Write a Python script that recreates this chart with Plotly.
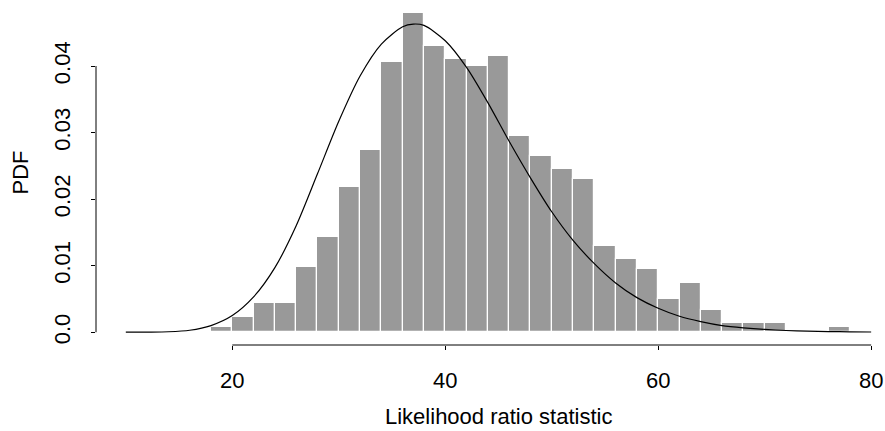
import plotly.graph_objects as go

# Histogram of the simulated statistic: bin edges (width 2) and density per bin
bin_left = [18, 20, 22, 24, 26, 28, 30, 32, 34, 36, 38, 40, 42, 44, 46,
            48, 50, 52, 54, 56, 58, 60, 62, 64, 66, 68, 70, 72, 74, 76]
bin_width = 2
density = [0.00084, 0.00234, 0.00435, 0.00435, 0.00985, 0.01435, 0.02186,
           0.02742, 0.04054, 0.0480, 0.0430, 0.0410, 0.0400, 0.0415, 0.0295,
           0.0265, 0.0245, 0.0230, 0.0130, 0.0110, 0.0095, 0.0050, 0.0074,
           0.0034, 0.00135, 0.00135, 0.00135, 0.0, 0.0, 0.00084]

# Reference density curve
curve_x = [10, 12, 14, 16, 18, 20, 22, 24, 26, 28, 30, 32, 34, 36, 37, 38,
           40, 42, 44, 46, 48, 50, 52, 54, 56, 58, 60, 62, 64, 66, 68, 70,
           72, 74, 76, 78, 80]
curve_y = [0.0000, 0.00002, 0.00007, 0.0003, 0.0010, 0.0025, 0.0053, 0.0097,
           0.0160, 0.0238, 0.0317, 0.0385, 0.0433, 0.0459, 0.0463, 0.0461,
           0.0438, 0.0398, 0.0345, 0.0287, 0.0232, 0.0181, 0.0138, 0.0103,
           0.0074, 0.0052, 0.0036, 0.0024, 0.0016, 0.0010, 0.00066, 0.00042,
           0.00026, 0.00016, 0.0001, 0.00006, 0.00003]

x_ticks = [20, 40, 60, 80]
y_ticks = [0.0, 0.01, 0.02, 0.03, 0.04]
y_tick_text = ["0.0", "0.01", "0.02", "0.03", "0.04"]

x_label = "Likelihood ratio statistic"
y_label = "PDF"

FONT = "Liberation Sans, Arial, Helvetica, sans-serif"
FS = 22

# R-style axis limits: data range padded by 4% on each side
x_lo, x_hi = min(curve_x), max(curve_x)
x_pad = 0.04 * (x_hi - x_lo)
y_hi = max(density)
y_pad = 0.04 * y_hi
x_range = [x_lo - x_pad, 81.3]
y_range = [-y_pad, y_hi + y_pad]

centers = [b + bin_width / 2 for b in bin_left]

fig = go.Figure()
fig.add_trace(go.Bar(
    x=centers, y=density, width=[bin_width] * len(centers),
    marker=dict(color="#999999", line=dict(color="white", width=1.2)),
    hoverinfo="skip", showlegend=False,
))
fig.add_trace(go.Scatter(
    x=curve_x, y=curve_y, mode="lines",
    line=dict(color="black", width=1.2, shape="spline", smoothing=0.8),
    hoverinfo="skip", showlegend=False,
))

# Axis lines spanning only the tick range, as in base R graphics
fig.add_shape(type="line", xref="x", yref="paper",
              x0=min(x_ticks), x1=max(x_ticks), y0=0, y1=0,
              line=dict(color="black", width=1))
fig.add_shape(type="line", xref="paper", yref="y",
              x0=0, x1=0, y0=min(y_ticks), y1=max(y_ticks),
              line=dict(color="black", width=1))

fig.add_annotation(text=x_label, xref="x", yref="paper",
                   x=(x_lo - x_pad + x_hi + x_pad) / 2, y=-0.208,
                   xanchor="center", yanchor="middle", showarrow=False,
                   font=dict(family=FONT, size=FS, color="black"))
fig.add_annotation(text=y_label, xref="paper", yref="paper",
                   x=-0.0963, y=0.5, textangle=-90,
                   xanchor="center", yanchor="middle", showarrow=False,
                   font=dict(family=FONT, size=FS, color="black"))

fig.update_layout(
    width=885, height=431,
    margin=dict(l=96, r=0, t=0, b=85.5),
    paper_bgcolor="white", plot_bgcolor="white",
    bargap=0,
    font=dict(family=FONT, size=FS, color="black"),
    xaxis=dict(range=x_range, tickvals=x_ticks, ticks="outside", ticklen=4,
               tickcolor="black", tickwidth=1, showgrid=False, zeroline=False,
               showline=False, ticklabelstandoff=12,
               tickfont=dict(family=FONT, size=FS, color="black")),
    yaxis=dict(range=y_range, tickvals=y_ticks, ticktext=y_tick_text,
               ticks="outside", ticklen=4, tickcolor="black", tickwidth=1,
               showgrid=False, zeroline=False, showline=False, tickangle=-90,
               ticklabelstandoff=12,
               tickfont=dict(family=FONT, size=FS, color="black")),
)

fig.write_html("out.html")
